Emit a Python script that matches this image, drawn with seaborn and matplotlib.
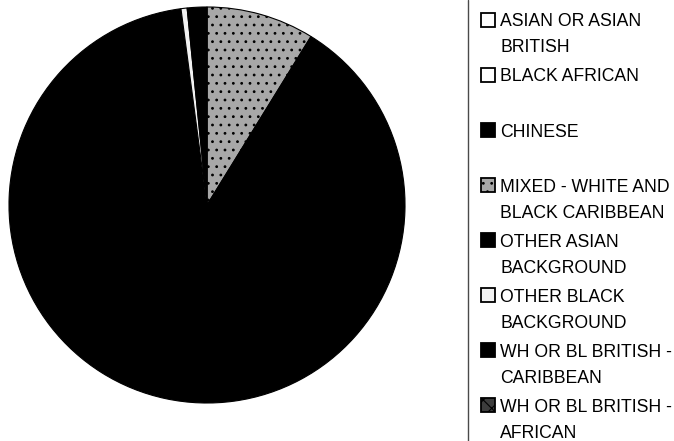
import numpy as np
import pandas as pd
import matplotlib
matplotlib.use("Agg")
import matplotlib.pyplot as plt
from matplotlib.patches import Rectangle
import seaborn as sns

# Ethnic group breakdown (percent of total)
categories = [
    "ASIAN OR ASIAN\nBRITISH",
    "BLACK AFRICAN",
    "CHINESE",
    "MIXED - WHITE AND\nBLACK CARIBBEAN",
    "OTHER ASIAN\nBACKGROUND",
    "OTHER BLACK\nBACKGROUND",
    "WH OR BL BRITISH -\nCARIBBEAN",
    "WH OR BL BRITISH -\nAFRICAN",
]
shares = [0.0, 0.0, 0.0, 8.8, 89.1, 0.5, 1.6, 0.0]

fills = ["#ffffff", "#ffffff", "#000000", "#a8a8a8",
         "#000000", "#f2f2f2", "#000000", "#3c3c3c"]
hatches = [None, None, None, "..", None, None, None, "xx"]

df = pd.DataFrame({"group": categories, "share": shares,
                   "fill": fills, "hatch": hatches})

sns.set_theme(style="white")
plt.rcParams["font.family"] = ["Liberation Sans", "DejaVu Sans"]
plt.rcParams["hatch.linewidth"] = 0.8

W, H = 674, 441
fig = plt.figure(figsize=(W / 100, H / 100), dpi=100)
fig.patch.set_facecolor("white")

# Pie: centre (207, 205) px, radius ~199 px
cx, cy, r = 207, 205, 199
ax = fig.add_axes([(cx - r) / W, (H - cy - r) / H, 2 * r / W, 2 * r / H])
wedges, _ = ax.pie(df["share"], colors=df["fill"], startangle=90,
                   counterclock=False, radius=1.0,
                   wedgeprops=dict(edgecolor="black", linewidth=0.8))
for w, h in zip(wedges, df["hatch"]):
    if h:
        w.set_hatch(h)
ax.set_xlim(-1.005, 1.005)
ax.set_ylim(-1.005, 1.005)
ax.set_aspect("equal")
ax.axis("off")

# Legend panel on the right, laid out in pixel coordinates
lax = fig.add_axes([0, 0, 1, 1], zorder=-1)
lax.set_xlim(0, W)
lax.set_ylim(H, 0)
lax.axis("off")
lax.plot([467.5, 467.5], [0, H], color="#4a4a4a", lw=1.0)

y0, step = 20.0, 55.07
for i, row in df.iterrows():
    yc = y0 + step * i
    lax.add_patch(Rectangle((481, yc - 7), 14, 14, facecolor=row["fill"],
                            edgecolor="black", linewidth=1.3,
                            hatch=row["hatch"]))
    lax.text(500, yc - 6.6, row["group"], fontsize=12.7, color="black",
             ha="left", va="top", linespacing=1.7)

fig.savefig("out.png", dpi=100, facecolor="white")
